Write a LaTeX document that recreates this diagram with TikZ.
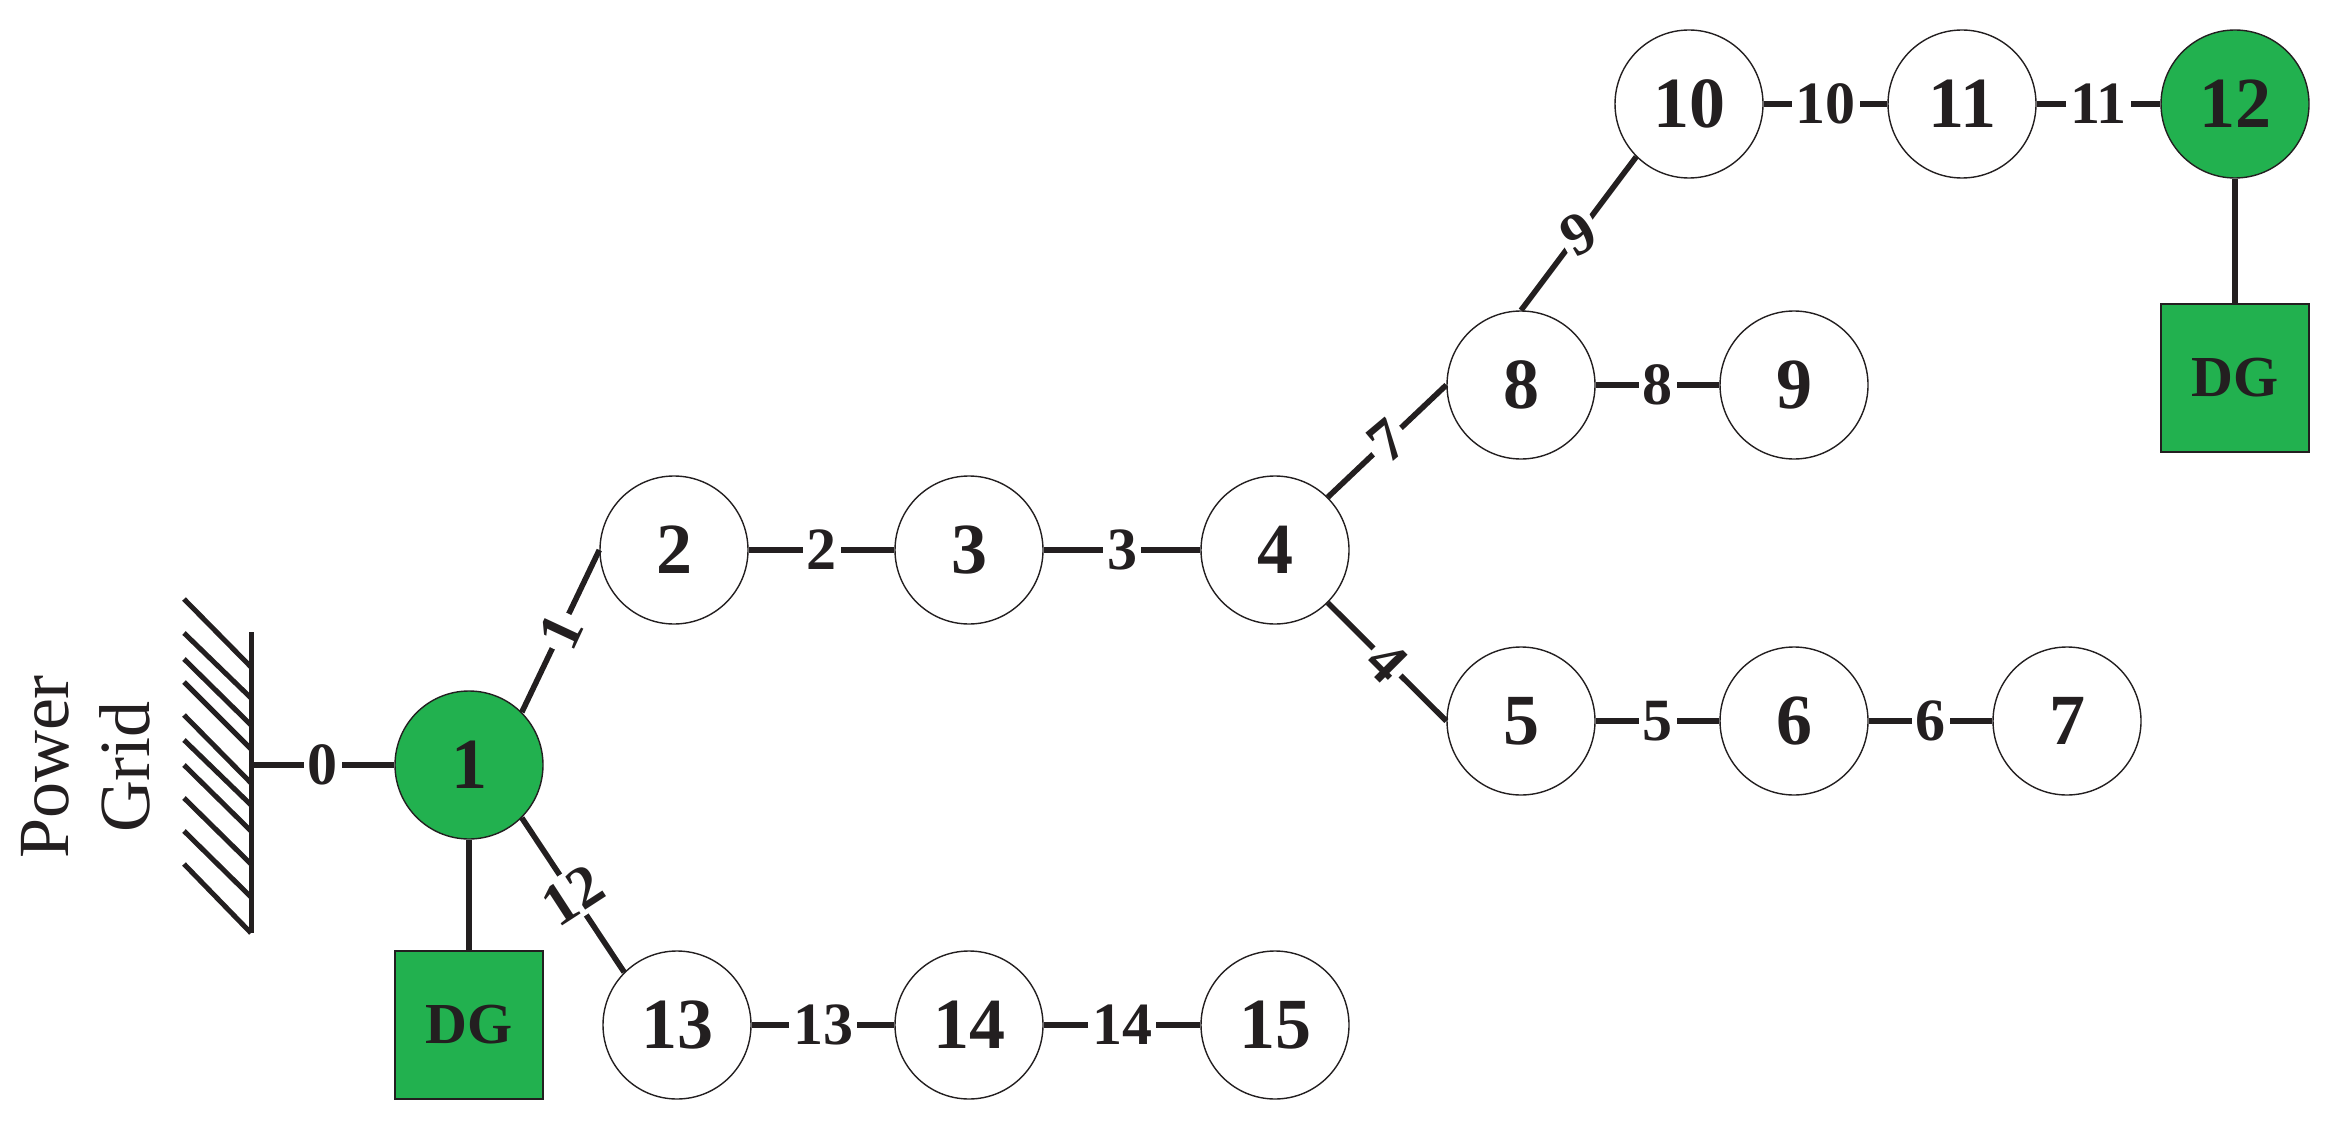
\documentclass[tikz,border=0pt]{standalone}
\usepackage{fontspec}
\setmainfont{Liberation Serif}
\definecolor{ink}{RGB}{35,31,32}
\definecolor{dggreen}{RGB}{34,177,79}
\newcommand{\busfont}{\fontsize{36}{36}\selectfont\bfseries}
\newcommand{\linefont}{\fontsize{30}{30}\selectfont\bfseries}
\tikzset{
  bus/.style={circle,draw=ink,line width=0.7pt,minimum size=148*0.5pt,inner sep=0pt,text=ink,font=\busfont},
  sourcebus/.style={bus,fill=dggreen},
  plainbus/.style={bus,fill=white},
  dgbox/.style={rectangle,draw=ink,line width=0.7pt,fill=dggreen,minimum size=148*0.5pt,inner sep=0pt,text=ink,font=\fontsize{29}{29}\selectfont\bfseries},
  wire/.style={draw=ink,line width=2.8pt},
  hatch/.style={draw=ink,line width=2.5pt},
  linelabel/.style={fill=white,inner sep=2pt,text=ink,font=\linefont},
  gridtext/.style={rotate=90,text=ink,font=\fontsize{36}{36}\selectfont}
}
\begin{document}
\begin{tikzpicture}[x=0.5pt,y=-0.5pt]
\useasboundingbox (0,0) rectangle (2338,1123);
% power grid
\coordinate (gt) at (251,632);
\coordinate (gb) at (251,933);
\coordinate (gm) at (251,765);
\draw[hatch] (gt) -- (gb);
\foreach \ya/\yb in {599/667,633/698,659/725,682/749,715/783,740/805,765/831,798/864,831/897,864/933}{
  \draw[hatch] (184,\ya) -- (251,\yb);
}
\node[gridtext] (pw) at (45,767) {Power};
\node[gridtext] (gr) at (125,767) {Grid};
% buses
\node[sourcebus] (n1) at (469,765) {1};
\node[plainbus] (n2) at (674,550) {2};
\node[plainbus] (n3) at (969,550) {3};
\node[plainbus] (n4) at (1275,550) {4};
\node[plainbus] (n5) at (1521,721) {5};
\node[plainbus] (n6) at (1794,721) {6};
\node[plainbus] (n7) at (2067,721) {7};
\node[plainbus] (n8) at (1521,385) {8};
\node[plainbus] (n9) at (1794,385) {9};
\node[plainbus] (n10) at (1689,104) {10};
\node[plainbus] (n11) at (1962,104) {11};
\node[sourcebus] (n12) at (2235,104) {12};
\node[plainbus] (n13) at (677,1025) {13};
\node[plainbus] (n14) at (969,1025) {14};
\node[plainbus] (n15) at (1275,1025) {15};
\node[dgbox] (dga) at (469,1025) {DG};
\node[dgbox] (dgb) at (2235,378) {DG};
% connectors
\draw[wire] (gm) -- node[linelabel] {0} (n1.west);
\draw[wire] (n1.45) -- node[linelabel,rotate=65] {1} (n2.west);
\draw[wire] (n2.east) -- node[linelabel] {2} (n3.west);
\draw[wire] (n3.east) -- node[linelabel] {3} (n4.west);
\draw[wire] (n4.-45) -- node[linelabel,rotate=-45] {4} (n5.west);
\draw[wire] (n5.east) -- node[linelabel] {5} (n6.west);
\draw[wire] (n6.east) -- node[linelabel] {6} (n7.west);
\draw[wire] (n4.45) -- node[linelabel,rotate=40] {7} (n8.west);
\draw[wire] (n8.east) -- node[linelabel] {8} (n9.west);
\draw[wire] (n8.north) -- node[linelabel,rotate=30] {9} (n10.225);
\draw[wire] (n10.east) -- node[linelabel] {10} (n11.west);
\draw[wire] (n11.east) -- node[linelabel] {11} (n12.west);
\draw[wire] (n1.-45) -- node[linelabel,rotate=33] {12} (n13.135);
\draw[wire] (n13.east) -- node[linelabel] {13} (n14.west);
\draw[wire] (n14.east) -- node[linelabel] {14} (n15.west);
\draw[wire] (n1.south) -- (dga.north);
\draw[wire] (n12.south) -- (dgb.north);
\end{tikzpicture}
\end{document}
